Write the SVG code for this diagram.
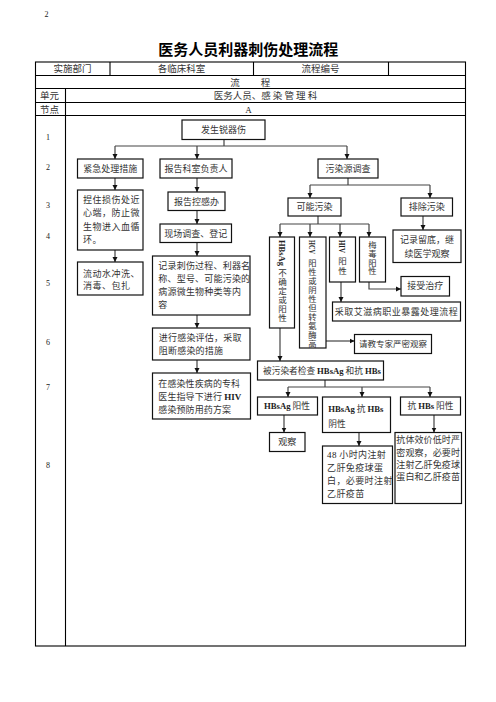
<svg xmlns="http://www.w3.org/2000/svg" width="496" height="702" viewBox="0 0 496 702">
<style>
text{font-family:"Liberation Serif","Noto Sans CJK SC",serif;}
.cj{font-family:"Noto Sans CJK SC",sans-serif;font-size:9px;fill:#333;}
.hd{font-family:"Noto Sans CJK SC",sans-serif;font-size:9.5px;fill:#333;}
.num{font-family:"Liberation Serif",serif;font-size:8px;fill:#222;}
.lat{font-family:"Liberation Serif",serif;font-weight:bold;fill:#222;}
.vt{font-family:"Noto Sans CJK SC",sans-serif;fill:#333;writing-mode:vertical-rl;text-orientation:upright;}
.box{fill:#fff;stroke:#111;stroke-width:1.2;}
.tbl{fill:none;stroke:#000;stroke-width:1.1;}
.cn{fill:none;stroke:#444;stroke-width:1.2;}
.mid{text-anchor:middle;}
</style>
<defs>
<marker id="ah" viewBox="0 0 10 10" refX="10" refY="5" markerWidth="5" markerHeight="6" orient="auto" markerUnits="userSpaceOnUse"><path d="M0,0 L10,5 L0,10 z" fill="#111"/></marker>
</defs>
<rect width="496" height="702" fill="#fff"/>
<text x="44.5" y="17" class="num">2</text>
<text x="248.3" y="54.5" text-anchor="middle" style="font-family:'Noto Sans CJK SC',sans-serif;font-weight:bold;font-size:15px;fill:#000">医务人员利器刺伤处理流程</text>

<g id="table">
<rect class="tbl" x="35.5" y="62" width="430" height="584"/>
<line class="tbl" x1="35.5" y1="75.5" x2="465.5" y2="75.5"/>
<line class="tbl" x1="35.5" y1="88.5" x2="465.5" y2="88.5"/>
<line class="tbl" x1="35.5" y1="102.5" x2="465.5" y2="102.5"/>
<line class="tbl" x1="35.5" y1="115.5" x2="465.5" y2="115.5"/>
<line class="tbl" x1="110" y1="62" x2="110" y2="75.5"/>
<line class="tbl" x1="253.5" y1="62" x2="253.5" y2="75.5"/>
<line class="tbl" x1="388.5" y1="62" x2="388.5" y2="75.5"/>
<line class="tbl" x1="65.5" y1="88.5" x2="65.5" y2="646"/>
<text x="72.5" y="72.3" class="hd mid">实施部门</text>
<text x="181.5" y="72.3" class="hd mid">各临床科室</text>
<text x="320.5" y="72.3" class="hd mid">流程编号</text>
<text x="235" y="85.5" class="hd mid">流</text>
<text x="265.5" y="85.5" class="hd mid">程</text>
<text x="49.5" y="99" class="hd mid">单元</text>
<text x="265.5" y="99" class="hd mid" style="white-space:pre">医务人员、感 染 管 理 科</text>
<text x="49.5" y="112.5" class="hd mid">节点</text>
<text x="248.5" y="112.5" class="num mid" style="font-size:9px">A</text>
<text x="46" y="140" class="num">1</text>
<text x="46" y="170" class="num">2</text>
<text x="46" y="208" class="num">3</text>
<text x="46" y="239" class="num">4</text>
<text x="46" y="286" class="num">5</text>
<text x="46" y="345" class="num">6</text>
<text x="46" y="390" class="num">7</text>
<text x="46" y="468" class="num">8</text>
</g>

<g id="connectors">
<path class="cn" d="M224,139.5 V146 M115,146 H347"/>
<path class="cn" d="M115,146 V159" marker-end="url(#ah)"/>
<path class="cn" d="M197,146 V159" marker-end="url(#ah)"/>
<path class="cn" d="M347,146 V159" marker-end="url(#ah)"/>
<path class="cn" d="M115,178 V190" marker-end="url(#ah)"/>
<path class="cn" d="M115,250 V262" marker-end="url(#ah)"/>
<path class="cn" d="M197,178 V192" marker-end="url(#ah)"/>
<path class="cn" d="M197,210.5 V224" marker-end="url(#ah)"/>
<path class="cn" d="M197,242.5 V256" marker-end="url(#ah)"/>
<path class="cn" d="M197,315 V328" marker-end="url(#ah)"/>
<path class="cn" d="M197,360 V373" marker-end="url(#ah)"/>
<path class="cn" d="M348,178 V185 M310,185 H430"/>
<path class="cn" d="M310,185 V198" marker-end="url(#ah)"/>
<path class="cn" d="M430,185 V198" marker-end="url(#ah)"/>
<path class="cn" d="M423,216 V230" marker-end="url(#ah)"/>
<path class="cn" d="M318,216 V224 M280,224 H369"/>
<path class="cn" d="M280,224 V237" marker-end="url(#ah)"/>
<path class="cn" d="M310,224 V237" marker-end="url(#ah)"/>
<path class="cn" d="M340,224 V237" marker-end="url(#ah)"/>
<path class="cn" d="M369,224 V237" marker-end="url(#ah)"/>
<path class="cn" d="M369,282 V289 H401" marker-end="url(#ah)"/>
<path class="cn" d="M341,282 V302" marker-end="url(#ah)"/>
<path class="cn" d="M326,341 H354.5" marker-end="url(#ah)"/>
<path class="cn" d="M280,328 V361" marker-end="url(#ah)"/>
<path class="cn" d="M325,380 V387 M288,387 H430"/>
<path class="cn" d="M288,387 V397" marker-end="url(#ah)"/>
<path class="cn" d="M362,387 V397" marker-end="url(#ah)"/>
<path class="cn" d="M430,387 V397" marker-end="url(#ah)"/>
<path class="cn" d="M284,415 V432.5" marker-end="url(#ah)"/>
<path class="cn" d="M359,432.5 V446" marker-end="url(#ah)"/>
<path class="cn" d="M434,415 V432.5" marker-end="url(#ah)"/>
</g>

<g id="n-start"><rect class="box" x="182" y="120" width="83" height="19.5"/><text x="223.5" y="133" class="cj mid">发生锐器伤</text></g>
<g id="n-emergency"><rect class="box" x="77.5" y="159" width="65.5" height="19"/><text x="110.3" y="171.7" class="cj mid">紧急处理措施</text></g>
<g id="n-press"><rect class="box" x="77.5" y="190" width="65.5" height="60"/>
<text class="cj" style="letter-spacing:0.5px"><tspan x="83" y="203.2">捏住损伤处近</tspan><tspan x="83" y="216.4">心端，防止微</tspan><tspan x="83" y="229.6">生物进入血循</tspan><tspan x="83" y="242.6">环。</tspan></text></g>
<g id="n-wash"><rect class="box" x="77.5" y="262" width="65.5" height="33"/>
<text class="cj" style="letter-spacing:0.5px"><tspan x="83" y="276.7">流动水冲洗、</tspan><tspan x="83" y="289.2">消毒、包扎</tspan></text></g>
<g id="n-report1"><rect class="box" x="160" y="159" width="72" height="19"/><text x="196" y="171.7" class="cj mid">报告科室负责人</text></g>
<g id="n-report2"><rect class="box" x="168" y="192" width="57" height="18.5"/><text x="196.5" y="204.5" class="cj mid">报告控感办</text></g>
<g id="n-survey"><rect class="box" x="160" y="224" width="71.5" height="18.5"/><text x="195.7" y="236.5" class="cj mid">现场调查、登记</text></g>
<g id="n-record"><rect class="box" x="152.5" y="256" width="97.5" height="59"/>
<text class="cj" style="letter-spacing:0.2px"><tspan x="158.3" y="269.2">记录刺伤过程、利器名</tspan><tspan x="158.3" y="282.2">称、型号、可能污染的</tspan><tspan x="158.3" y="295">病源微生物种类等内</tspan><tspan x="158.3" y="307.5">容</tspan></text></g>
<g id="n-assess"><rect class="box" x="152.5" y="328" width="97.5" height="32"/>
<text class="cj" style="letter-spacing:0.2px"><tspan x="158.8" y="341">进行感染评估，采取</tspan><tspan x="158.8" y="354.3">阻断感染的措施</tspan></text></g>
<g id="n-hivprev"><rect class="box" x="152.5" y="373" width="98" height="46"/>
<text class="cj" style="letter-spacing:0.1px"><tspan x="158.3" y="386.5">在感染性疾病的专科</tspan><tspan x="158.3" y="400">医生指导下进行 <tspan class="lat" style="font-size:9px">HIV</tspan></tspan><tspan x="158.3" y="412.7">感染预防用药方案</tspan></text></g>

<g id="n-source"><rect class="box" x="318" y="159" width="60" height="19"/><text x="348" y="171.7" class="cj mid">污染源调查</text></g>
<g id="n-possible"><rect class="box" x="288" y="198" width="53" height="18"/><text x="314.5" y="210.3" class="cj mid">可能污染</text></g>
<g id="n-exclude"><rect class="box" x="401" y="198" width="51.5" height="18"/><text x="426.7" y="210.3" class="cj mid">排除污染</text></g>
<g id="n-keep"><rect class="box" x="393" y="230" width="68" height="32.5"/>
<text class="cj mid"><tspan x="427" y="243.2">记录留底，继</tspan><tspan x="427" y="256.5">续医学观察</tspan></text></g>

<g id="n-hbsag"><rect class="box" x="269.5" y="237" width="25" height="91"/>
<text class="lat" font-size="8.5" textLength="26" lengthAdjust="spacingAndGlyphs" transform="translate(282,240) rotate(90)" x="0" y="3">HBsAg</text>
<text class="vt" x="282.5" y="268.5" style="font-size:8.5px;letter-spacing:0.5px">不确定或阳性</text></g>
<g id="n-hcv"><rect class="box" x="299.5" y="237" width="26.5" height="111"/>
<text class="lat" font-size="8" textLength="14" lengthAdjust="spacingAndGlyphs" transform="translate(312,240) rotate(90)" x="0" y="3">HCV</text>
<text class="vt" x="312.5" y="259.2" style="font-size:8.3px;letter-spacing:0.6px">阳性或阴性但转氨酶高</text></g>
<g id="n-hiv"><rect class="box" x="329.5" y="237" width="26" height="45"/>
<text class="lat" font-size="8" textLength="13" lengthAdjust="spacingAndGlyphs" transform="translate(342,240) rotate(90)" x="0" y="3">HIV</text>
<text class="vt" x="342.5" y="256.8" style="font-size:8.5px;letter-spacing:1.5px">阳性</text></g>
<g id="n-syphilis"><rect class="box" x="359.5" y="237" width="26" height="45"/>
<text class="vt" x="372.5" y="240.9" style="font-size:8.3px;letter-spacing:0.4px">梅毒阳性</text></g>
<g id="n-treat"><rect class="box" x="401" y="276.5" width="48.5" height="19.5"/><text x="425.2" y="289.3" class="cj mid">接受治疗</text></g>
<g id="n-aids"><rect class="box" x="332.5" y="302" width="128" height="19"/><text x="396.5" y="314.7" class="cj mid" style="letter-spacing:0.5px">采取艾滋病职业暴露处理流程</text></g>
<g id="n-expert"><rect class="box" x="354.5" y="334.5" width="77" height="19"/><text x="393" y="347.2" class="cj mid" style="font-size:8.5px">请教专家严密观察</text></g>
<g id="n-test"><rect class="box" x="257.5" y="361" width="126" height="19"/><text x="263" y="373.7" class="cj" style="font-size:8.7px">被污染者检查 <tspan class="lat">HBsAg</tspan> 和抗 <tspan class="lat">HBs</tspan></text></g>
<g id="n-pos"><rect class="box" x="257.5" y="397" width="60" height="18"/><text x="264" y="409.3" class="cj" style="font-size:8.7px"><tspan class="lat">HBsAg</tspan> 阳性</text></g>
<g id="n-neg"><rect class="box" x="322.5" y="397" width="68" height="35.5"/><text class="cj" style="font-size:8.7px"><tspan x="328.3" y="411.5"><tspan class="lat">HBsAg</tspan> 抗 <tspan class="lat">HBs</tspan></tspan><tspan x="328.3" y="426.5">阴性</tspan></text></g>
<g id="n-antipos"><rect class="box" x="400.5" y="397" width="60" height="18"/><text x="430.5" y="409.3" class="cj mid" style="font-size:8.7px">抗 <tspan class="lat">HBs</tspan> 阳性</text></g>
<g id="n-observe"><rect class="box" x="269.5" y="432.5" width="35.5" height="19"/><text x="287.2" y="445.2" class="cj mid">观察</text></g>
<g id="n-48h"><rect class="box" x="322.5" y="446" width="70" height="57.5"/>
<text class="cj" style="letter-spacing:0.4px"><tspan x="327" y="457.7"><tspan class="lat" style="font-weight:normal">48</tspan> 小时内注射</tspan><tspan x="327" y="470.7">乙肝免疫球蛋</tspan><tspan x="327" y="483.7">白，必要时注射</tspan><tspan x="327" y="496.7">乙肝疫苗</tspan></text></g>
<g id="n-titer"><rect class="box" x="395" y="432.5" width="66.5" height="71"/>
<text class="cj" style="letter-spacing:0.1px"><tspan x="396.3" y="443.2">抗体效价低时严</tspan><tspan x="396.3" y="455.7">密观察，必要时</tspan><tspan x="396.3" y="467.9">注射乙肝免疫球</tspan><tspan x="396.3" y="480.1">蛋白和乙肝疫苗</tspan></text></g>
</svg>
